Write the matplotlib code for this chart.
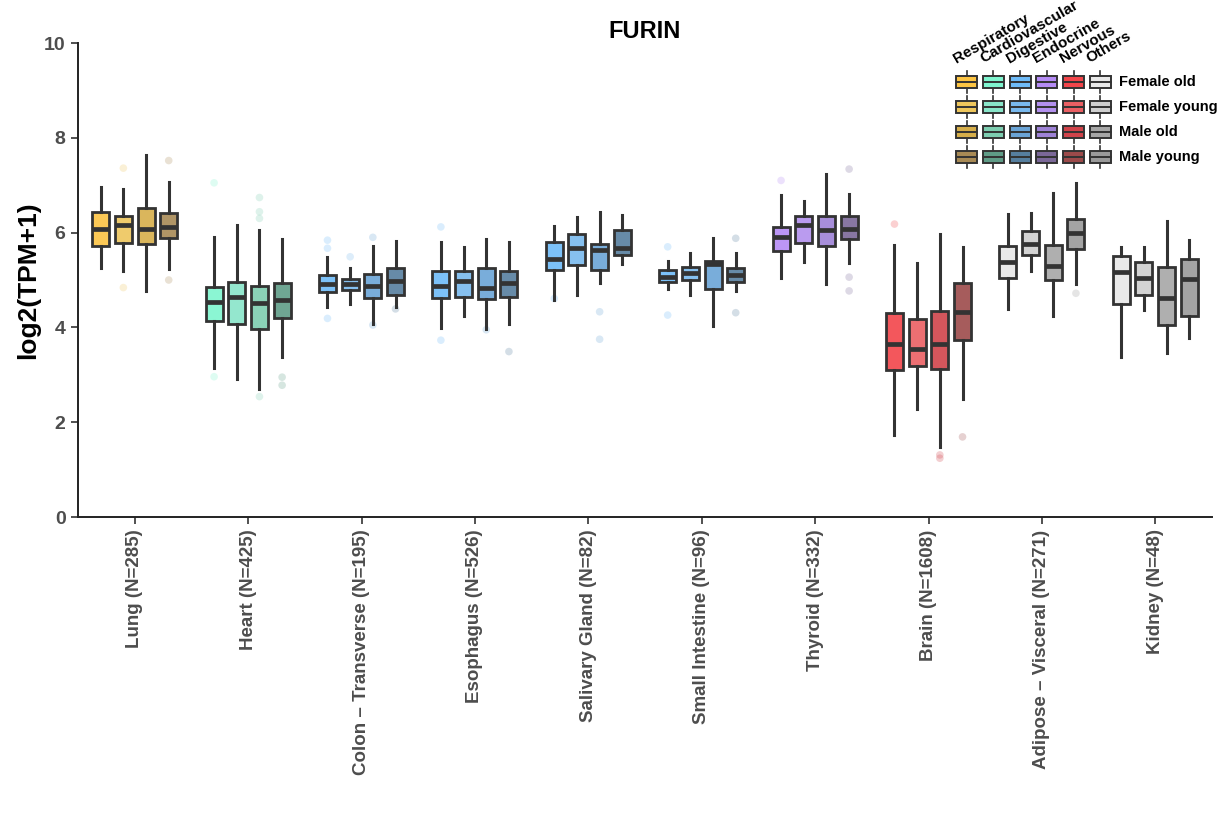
import matplotlib
matplotlib.use('Agg')
import matplotlib.pyplot as plt
from matplotlib.patches import Rectangle
from matplotlib.lines import Line2D
from matplotlib.colors import to_rgba

plt.rcParams['font.family'] = ['Liberation Sans', 'DejaVu Sans']

# Tissues on the x axis
tissues = ['Lung', 'Heart', 'Colon – Transverse', 'Esophagus', 'Salivary Gland',
           'Small Intestine', 'Thyroid', 'Brain', 'Adipose – Visceral', 'Kidney']
n_samples = [285, 425, 195, 526, 82, 96, 332, 1608, 271, 48]
systems = ['Respiratory', 'Cardiovascular', 'Digestive', 'Digestive', 'Digestive',
           'Digestive', 'Endocrine', 'Nervous', 'Others', 'Others']
groups = ['Female old', 'Female young', 'Male old', 'Male young']

# Box statistics per tissue, order: Female old, Female young, Male old, Male young
whislo = [[5.26, 5.18, 4.77, 5.23],
          [3.14, 2.92, 2.71, 3.38],
          [4.42, 4.49, 4.07, 4.42],
          [3.98, 4.24, 3.96, 4.07],
          [4.58, 4.68, 4.93, 5.33],
          [4.80, 4.68, 4.04, 4.77],
          [5.05, 5.37, 4.91, 5.36],
          [1.73, 2.27, 1.47, 2.50],
          [4.38, 5.18, 4.23, 4.91],
          [3.37, 4.37, 3.47, 3.77]]
q1 = [[5.72, 5.79, 5.75, 5.89],
      [4.14, 4.07, 3.97, 4.20],
      [4.74, 4.79, 4.63, 4.68],
      [4.63, 4.65, 4.59, 4.65],
      [5.21, 5.31, 5.22, 5.53],
      [4.96, 4.99, 4.82, 4.96],
      [5.62, 5.79, 5.72, 5.86],
      [3.10, 3.19, 3.13, 3.73],
      [5.04, 5.53, 4.99, 5.65],
      [4.49, 4.68, 4.06, 4.24]]
med = [[6.07, 6.17, 6.07, 6.11],
       [4.53, 4.65, 4.51, 4.58],
       [4.91, 4.91, 4.87, 4.98],
       [4.87, 4.98, 4.84, 4.94],
       [5.44, 5.67, 5.63, 5.67],
       [5.07, 5.14, 5.33, 5.11],
       [5.91, 6.17, 6.05, 6.07],
       [3.66, 3.54, 3.66, 4.33],
       [5.37, 5.75, 5.30, 6.00],
       [5.16, 5.04, 4.63, 5.02]]
q3 = [[6.44, 6.35, 6.51, 6.42],
      [4.86, 4.95, 4.87, 4.94],
      [5.11, 5.02, 5.13, 5.25],
      [5.18, 5.20, 5.25, 5.20],
      [5.81, 5.97, 5.75, 6.05],
      [5.22, 5.28, 5.40, 5.25],
      [6.11, 6.34, 6.36, 6.34],
      [4.30, 4.18, 4.35, 4.93],
      [5.72, 6.03, 5.74, 6.28],
      [5.51, 5.37, 5.28, 5.44]]
whishi = [[6.97, 6.92, 7.64, 7.07],
          [5.91, 6.16, 6.05, 5.86],
          [5.49, 5.25, 5.72, 5.82],
          [5.81, 5.70, 5.86, 5.80],
          [6.14, 6.32, 6.44, 6.37],
          [5.40, 5.58, 5.88, 5.58],
          [6.79, 6.67, 7.24, 6.81],
          [5.74, 5.35, 5.96, 5.69],
          [6.39, 6.42, 6.84, 7.05],
          [5.70, 5.69, 6.25, 5.84]]
# Points visible beyond the whiskers
outliers = [[[], [7.36, 4.84], [], [7.52, 5.00]],
            [[7.05, 2.96], [], [6.74, 6.44, 6.30, 2.54], [2.95, 2.78]],
            [[5.84, 5.67, 4.19], [5.49], [5.90, 4.05], [4.39]],
            [[6.12, 3.73], [], [3.95], [3.49]],
            [[4.61], [], [4.33, 3.75], []],
            [[5.70, 4.26], [], [], [5.88, 4.31]],
            [[7.10], [], [], [7.34, 5.06, 4.77]],
            [[6.18], [], [1.24, 1.31], [1.69]],
            [[], [], [], [4.72]],
            [[], [], [], []]]

palette = {
    'Respiratory':    ['#FCC443', '#EEC65C', '#D6AE4A', '#A88A55'],
    'Cardiovascular': ['#7FF5CF', '#88E5C9', '#7DCDB0', '#5F9C87'],
    'Digestive':      ['#6EBBF8', '#79B9EE', '#6AA4D6', '#567F9F'],
    'Endocrine':      ['#B58BF5', '#B390EE', '#9E82D6', '#7B6898'],
    'Nervous':        ['#F2454A', '#EA5F63', '#D0434A', '#9C4A4A'],
    'Others':         ['#E8E8E8', '#CFCFCF', '#A6A6A6', '#9A9A9A'],
}
system_order = ['Respiratory', 'Cardiovascular', 'Digestive', 'Endocrine', 'Nervous', 'Others']

edge = '#333333'
offsets = [-0.3, -0.1, 0.1, 0.3]

fig = plt.figure(figsize=(12.23, 8.14), dpi=100)
ax = fig.add_axes([78 / 1223, 1 - 517 / 814, (1212 - 78) / 1223, (517 - 43) / 814])

for i, tissue in enumerate(tissues):
    cols = palette[systems[i]]
    for g in range(4):
        pos = i + 1 + offsets[g]
        stats = [dict(whislo=whislo[i][g], q1=q1[i][g], med=med[i][g], q3=q3[i][g],
                      whishi=whishi[i][g], fliers=[])]
        if outliers[i][g]:
            ax.scatter([pos] * len(outliers[i][g]), outliers[i][g], s=30,
                       color=cols[g], alpha=0.25, edgecolor='none', zorder=1)
        ax.bxp(stats, positions=[pos], widths=0.15, patch_artist=True,
               showcaps=False, showfliers=False,
               boxprops=dict(facecolor=to_rgba(cols[g], 0.9), edgecolor=edge, linewidth=2.0),
               whiskerprops=dict(color=edge, linewidth=2.2),
               medianprops=dict(color=edge, linewidth=3.4, solid_capstyle='butt'),
               manage_ticks=False, zorder=2)

ax.set_xlim(0.5, 10.5)
ax.set_ylim(0, 10)
ax.set_xticks(range(1, len(tissues) + 1))
ax.set_xticklabels([f'{t} (N={n})' for t, n in zip(tissues, n_samples)], rotation=90,
                   fontsize=13.5, fontweight='bold', color='#4D4D4D')
ax.set_yticks([0, 2, 4, 6, 8, 10])
ax.set_yticklabels(['0', '2', '4', '6', '8', '10'], fontsize=14, fontweight='bold', color='#4D4D4D')
ax.tick_params(axis='both', direction='out', length=5, width=1.2, color='#333333', pad=4)
ax.set_ylabel('log2(TPM+1)', fontsize=19, fontweight='bold', labelpad=3)
ax.set_title('FURIN', fontsize=17, fontweight='bold', pad=2)
for s in ['top', 'right']:
    ax.spines[s].set_visible(False)
for s in ['left', 'bottom']:
    ax.spines[s].set_linewidth(1.4)
    ax.spines[s].set_color('#222222')

# Custom legend: systems as columns, sex/age groups as rows
leg = fig.add_axes([0, 0, 1, 1])
leg.set_xlim(0, 1223)
leg.set_ylim(814, 0)
leg.axis('off')
col_x = [966.7 + 26.7 * k for k in range(6)]
row_y = [81.7 + 25 * r for r in range(4)]
for k, sysname in enumerate(system_order):
    leg.text(col_x[k] - 9, 66, sysname, rotation=30, rotation_mode='anchor',
             ha='left', va='bottom', fontsize=11, fontweight='bold')
    for r in range(4):
        x, y = col_x[k], row_y[r]
        leg.add_line(Line2D([x, x], [y - 11, y + 11], color=edge, linewidth=1.2))
        leg.add_patch(Rectangle((x - 10.5, y - 6), 21, 12, facecolor=palette[sysname][r],
                                edgecolor=edge, linewidth=1.4, zorder=3))
        leg.add_line(Line2D([x - 10.5, x + 10.5], [y, y], color=edge, linewidth=1.4, zorder=4))
for r, gname in enumerate(groups):
    leg.text(1119, row_y[r], gname, ha='left', va='center', fontsize=10.5, fontweight='bold')

plt.savefig('out.png', dpi=100)
